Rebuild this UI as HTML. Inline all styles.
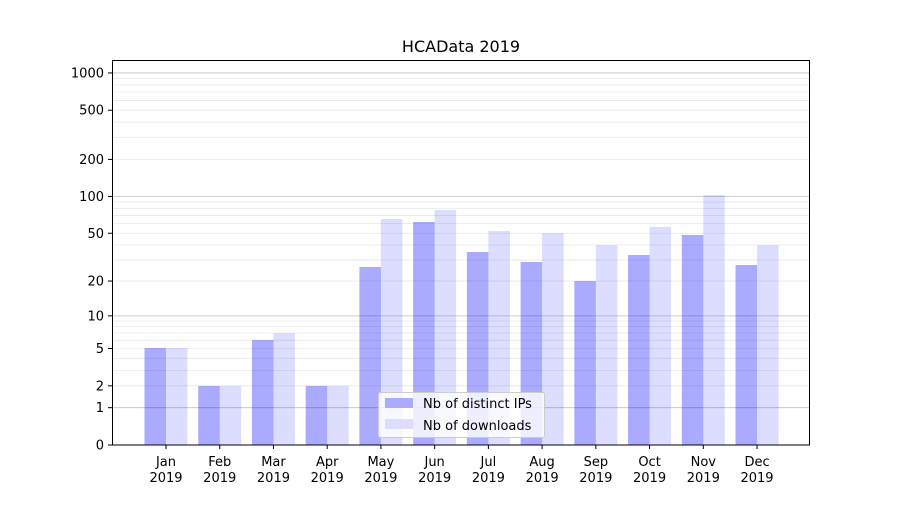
<!DOCTYPE html>
<html><head><meta charset="utf-8"><style>body{margin:0;background:#fff}</style></head><body>
<svg width="900" height="500" xmlns="http://www.w3.org/2000/svg" font-family="DejaVu Sans, Liberation Sans, sans-serif">
<rect width="900" height="500" fill="#fff"/>
<g id="grid"></g>
<g id="bars"></g>
<g id="ticks"></g>
<rect x="112.5" y="60.5" width="697" height="384.5" fill="none" stroke="#000" stroke-width="1"/>
<text x="461" y="52" font-size="16" text-anchor="middle">HCAData 2019</text>
<g>
<rect x="378.5" y="392.5" width="166" height="45" rx="2" fill="#fff" fill-opacity="0.8" stroke="#ccc"/>
<rect x="385" y="398" width="28" height="10" fill="#aaaaff"/>
<text x="423" y="408" font-size="13">Nb of distinct IPs</text>
<rect x="385" y="419" width="28" height="10" fill="#ddddff"/>
<text x="423" y="430" font-size="13">Nb of downloads</text>
</g>
<script>
var ns="http://www.w3.org/2000/svg";
function el(p,t,a){var e=document.createElementNS(ns,t);for(var k in a)e.setAttribute(k,a[k]);p.appendChild(e);return e;}
function Y(v){return 445-124*Math.log10(v+1);}
var g=document.getElementById('grid');
[2,3,4,5,6,7,8,9,20,30,40,50,60,70,80,90,200,300,400,500,600,700,800,900].forEach(function(v){var y=Y(v);el(g,'line',{x1:113,x2:809,y1:y,y2:y,stroke:'#e8e8e8','stroke-width':0.8});});
[1,10,100,1000].forEach(function(v){var y=Y(v);el(g,'line',{x1:113,x2:809,y1:y,y2:y,stroke:'#c0c0c0','stroke-width':0.8});});
var b=document.getElementById('bars');
var tops=[[348,348],[386,386],[340,333],[386,386],[267,219],[222,210],[252,231],[262,233],[281,245],[255,227],[235,195],[265,245]];
var m=['Jan','Feb','Mar','Apr','May','Jun','Jul','Aug','Sep','Oct','Nov','Dec'];
var tk=document.getElementById('ticks');
for(var i=0;i<12;i++){var c=166+i*53.73;
el(b,'rect',{x:c-21.5,y:tops[i][0],width:21.5,height:445-tops[i][0],fill:'#0000ff','fill-opacity':0.333});
el(b,'rect',{x:c,y:tops[i][1],width:21.5,height:445-tops[i][1],fill:'#0000ff','fill-opacity':0.133});
el(tk,'line',{x1:c,x2:c,y1:445,y2:449,stroke:'#000'});
var t=el(tk,'text',{x:c,y:466,'font-size':13,'text-anchor':'middle'});t.textContent=m[i];
t=el(tk,'text',{x:c,y:482,'font-size':13,'text-anchor':'middle'});t.textContent='2019';}
[0,1,2,5,10,20,50,100,200,500,1000].forEach(function(v){var y=Y(v);
el(tk,'line',{x1:108,x2:112,y1:y,y2:y,stroke:'#000'});
var t=el(tk,'text',{x:104,y:y+4.5,'font-size':13,'text-anchor':'end'});t.textContent=v;});
</script>
</svg>
</body></html>
